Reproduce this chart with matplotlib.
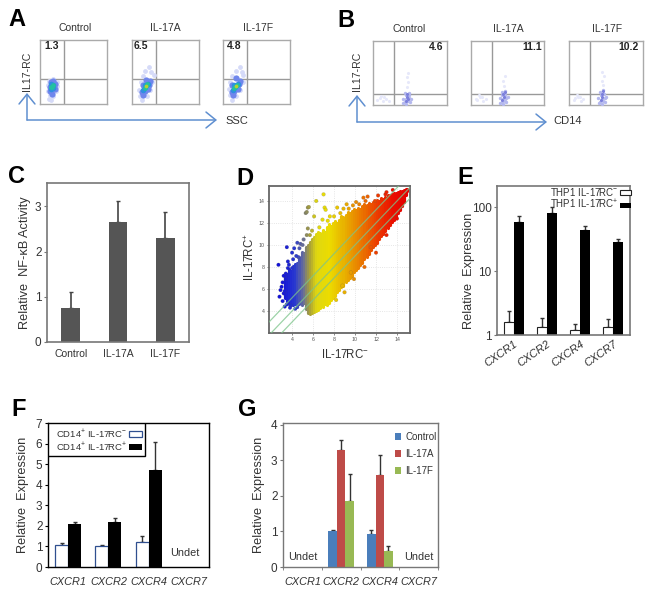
import matplotlib
matplotlib.use("Agg")
import matplotlib.pyplot as plt
import numpy as np
from matplotlib.colors import LinearSegmentedColormap, Normalize
from matplotlib.patches import FancyArrowPatch, Rectangle
from matplotlib.transforms import ScaledTranslation

plt.rcParams['font.family'] = ['Liberation Sans', 'DejaVu Sans']
plt.rcParams['mathtext.fontset'] = 'custom'
plt.rcParams['mathtext.rm'] = 'Liberation Sans'
plt.rcParams['mathtext.it'] = 'Liberation Sans:italic'
plt.rcParams['mathtext.bf'] = 'Liberation Sans:bold'
plt.rcParams['mathtext.default'] = 'regular'

W, H = 651, 593
TXT = '#333333'
GRAY = '#777777'

# ---------- data ----------
# Panel A/B: gated percentages
a_titles = ['Control', 'IL-17A', 'IL-17F']
a_values = ['1.3', '6.5', '4.8']
b_values = ['4.6', '11.1', '10.2']
a_colors = ['#d5daf8', '#6f86ec', '#2f8fe0', '#22c0a0', '#b8d030']
b_colors = ['#e6e8fa', '#b4b8ee', '#7c80dc']
# each list: x, y, density level
a1_x = [.13,.15,.12,.20,.17,.24,.25,.14,.20,.12,.26, .15,.18,.22,.23,.16,.20,.15,.19, .16,.19,.20,.17, .17,.19,.18]
a1_y = [.08,.14,.20,.12,.06,.20,.35,.36,.39,.30,.28, .20,.16,.24,.32,.34,.36,.27,.28, .24,.25,.30,.32, .27,.30,.27]
a1_l = [0,0,0,0,0,0,0,0,0,0,0, 1,1,1,1,1,1,1,1, 2,2,2,2, 3,3,3]
a2_x = [.12,.15,.11,.22,.27,.30,.28,.20,.25,.33,.17,.14, .15,.17,.24,.27,.21,.16,.19,.23,.26, .17,.20,.24,.19, .19,.23,.21, .21]
a2_y = [.12,.06,.22,.12,.22,.34,.50,.52,.58,.46,.44,.34, .18,.14,.24,.36,.38,.30,.20,.30,.30, .22,.26,.32,.30, .25,.31,.28, .28]
a2_l = [0,0,0,0,0,0,0,0,0,0,0,0, 1,1,1,1,1,1,1,1,1, 2,2,2,2, 3,3,3, 4]
a3_x = [.11,.14,.09,.20,.25,.30,.28,.20,.26,.30,.14,.11, .13,.15,.22,.25,.19,.14,.17,.21,.24, .15,.18,.22,.17, .17,.21,.19, .19]
a3_y = [.14,.07,.24,.12,.22,.34,.50,.52,.58,.46,.44,.34, .18,.14,.24,.36,.40,.30,.20,.30,.31, .22,.26,.32,.30, .25,.30,.28, .28]
a3_l = [0,0,0,0,0,0,0,0,0,0,0,0, 1,1,1,1,1,1,1,1,1, 2,2,2,2, 3,3,3, 4]
b1_x = [.05,.09,.13,.17,.21,.11,.15, .41,.45,.50,.43,.48,.46,.41,.52,.47,.46,.47, .43,.47,.45,.49,.44,.48, .45,.47,.46,.46]
b1_y = [.08,.11,.06,.10,.07,.14,.13, .03,.02,.04,.19,.18,.28,.10,.10,.36,.44,.50, .05,.06,.10,.11,.15,.15, .07,.10,.13,.17]
b1_l = [0,0,0,0,0,0,0, 1,1,1,1,1,0,1,1,0,0,0, 1,1,1,1,1,1, 2,2,2,2]
b2_x = [.08,.12,.16,.20,.11,.15,.07, .40,.44,.48,.42,.46,.45,.40,.50,.44,.46, .42,.46,.44,.48,.43,.47, .43,.45,.44,.46]
b2_y = [.08,.12,.06,.09,.15,.13,.10, .03,.02,.04,.20,.22,.30,.11,.12,.38,.46, .05,.06,.10,.11,.15,.16, .08,.12,.17,.20]
b2_l = [0,0,0,0,0,0,0, 1,1,1,1,1,0,1,1,0,0, 1,1,1,1,1,1, 2,2,2,2]
b3_x = [.07,.12,.16,.19,.11,.15,.08, .40,.44,.48,.42,.46,.46,.39,.50,.45,.47,.45, .42,.46,.44,.48,.43,.47, .43,.45,.44,.46]
b3_y = [.08,.12,.07,.09,.15,.13,.11, .03,.02,.04,.20,.24,.32,.11,.13,.38,.46,.52, .05,.06,.10,.11,.15,.17, .08,.12,.17,.22]
b3_l = [0,0,0,0,0,0,0, 1,1,1,1,1,0,1,1,0,0,0, 1,1,1,1,1,1, 2,2,2,2]

# Panel C
c_cats = ['Control', 'IL-17A', 'IL-17F']
c_vals = [0.75, 2.65, 2.30]
c_tops = [1.10, 3.12, 2.88]

# Panel D: envelope of the point cloud and fringe points
d_x = [3.3,3.5,3.7,3.9,4.1,4.3,4.5,4.7,4.9,5.1,5.3,5.5,5.7,5.9,6.1,6.3,6.5,6.7,6.9,7.1,7.3,7.5,7.7,7.9,
       8.1,8.3,8.5,8.7,8.9,9.1,9.3,9.5,9.7,9.9,10.1,10.3,10.5,10.7,10.9,11.1,11.3,11.5,11.7,11.9,
       12.1,12.3,12.5,12.7,12.9,13.1,13.3,13.5,13.7,13.9,14.1,14.3,14.5,14.7,14.9,15.0]
d_lo = [5.2,4.9,4.6,4.7,4.5,4.6,4.4,4.6,4.5,4.7,4.2,3.8,3.7,3.8,3.9,4.0,4.1,4.3,4.4,4.6,4.5,4.7,5.0,5.2,
        5.4,5.7,5.9,6.2,6.3,6.6,6.8,7.0,7.2,7.5,7.7,7.9,8.2,8.4,8.7,8.9,9.2,9.5,9.8,10.0,
        10.2,10.5,10.8,11.0,11.3,11.5,11.8,12.1,12.3,12.6,12.9,13.2,13.5,13.9,14.5,14.9]
d_hi = [7.2,7.4,7.8,7.6,8.1,8.3,8.4,8.9,9.4,9.3,9.8,10.0,10.3,10.5,10.7,11.0,11.2,11.1,11.4,11.2,11.6,11.9,11.7,
        12.0,12.2,12.0,12.3,12.6,12.5,12.7,13.0,12.9,13.1,13.3,13.2,13.4,13.3,13.5,13.7,13.6,13.8,13.7,13.9,14.0,
        14.1,14.0,14.3,14.2,14.4,14.5,14.5,14.6,14.7,14.7,14.8,14.9,14.9,15.0,15.1,15.1]
d_fx = [7.0,6.3,5.5,5.6,5.3,5.4,7.1,7.2,6.1,5.5,5.4,5.1,8.3,10.8,9.8,12.9,11.9,2.7,3.5,4.0,3.6,2.9,2.8,3.3,3.9,4.5,4.6,8.8,9.6,11.5,
        3.1,3.2,3.4,4.2,6.9,7.6,8.9,10.1,9.2,11.2, 3.0,3.3,3.1,3.5,3.8,3.6,4.1,4.4,3.2,3.4,3.7,4.0,4.3,4.7,4.8,5.0,
        7.4,8.0,8.6,9.4,10.4,11.0,12.2,13.0,13.6, 8.2,9.0,9.9,10.9,12.0,13.0,14.0, 5.7,5.9,6.6]
d_fy = [14.6,14.0,13.4,13.45,12.9,13.0,13.4,13.2,12.6,11.5,10.9,10.5,13.4,14.3,13.6,14.6,14.0,8.2,9.8,9.3,8.5,5.9,5.3,4.4,4.5,10.2,8.9,6.3,7.5,9.8,
        6.6,5.6,7.4,9.7,12.3,12.6,13.3,13.9,13.7,14.4, 6.2,5.8,4.9,4.6,4.3,7.9,8.7,9.0,7.2,6.9,8.2,7.9,4.2,9.7,10.1,10.0,
        12.2,12.6,12.9,13.3,13.7,14.0,14.5,14.8,15.0, 5.0,5.7,6.9,8.0,9.3,10.9,12.4, 10.9,11.3,11.6]
d_offsets = [1.2, 0.0, -1.0]
d_ticks = [4, 6, 8, 10, 12, 14]

# Panel E
e_cats = ['CXCR1', 'CXCR2', 'CXCR4', 'CXCR7']
e_neg = [1.6, 1.33, 1.2, 1.33]
e_neg_top = [2.4, 1.85, 1.5, 1.8]
e_pos = [58, 82, 44, 28]
e_pos_top = [72, 100, 50, 32]

# Panel F
f_cats = ['CXCR1', 'CXCR2', 'CXCR4', 'CXCR7']
f_neg = [1.05, 1.00, 1.20]
f_neg_top = [1.15, 1.05, 1.50]
f_pos = [2.08, 2.17, 4.70]
f_pos_top = [2.20, 2.38, 6.07]

# Panel G (groups CXCR2 and CXCR4 only)
g_cats = ['CXCR1', 'CXCR2', 'CXCR4', 'CXCR7']
g_ctrl = [1.02, 0.93]
g_ctrl_top = [1.05, 1.03]
g_a = [3.30, 2.58]
g_a_top = [3.57, 3.15]
g_f = [1.87, 0.45]
g_f_top = [2.62, 0.60]

# ---------- helpers ----------
fig = plt.figure(figsize=(W / 100, H / 100), dpi=100)

def axpx(x0, y0, x1, y1):
    return fig.add_axes([x0 / W, 1 - y1 / H, (x1 - x0) / W, (y1 - y0) / H])

def ptxt(x, y, s, size=7.5, ha='center', va='center', **kw):
    kw.setdefault('color', TXT)
    return fig.text(x / W, 1 - y / H, s, fontsize=size, ha=ha, va=va, **kw)

def arrow(p0, p1):
    fig.add_artist(FancyArrowPatch((p0[0] / W, 1 - p0[1] / H), (p1[0] / W, 1 - p1[1] / H),
                                   transform=fig.transFigure, arrowstyle='->,head_length=3.2,head_width=2.6',
                                   color='#5f8fd0', lw=1.1, shrinkA=0, shrinkB=0, mutation_scale=2.2))

def style(ax, color=GRAY, lw=1.1):
    for s in ax.spines.values():
        s.set_color(color)
        s.set_linewidth(lw)

def flow(box, xs, ys, ls, vline, hline, colors, sizes):
    ax = axpx(*box)
    ax.set_xlim(0, 1)
    ax.set_ylim(0, 1)
    ax.set_xticks([])
    ax.set_yticks([])
    style(ax, '#aaaaaa', 1.0)
    ax.axvline(vline, color='#999999', lw=1.0)
    ax.axhline(hline, color='#999999', lw=1.0)
    xs, ys, ls = np.array(xs), np.array(ys), np.array(ls)
    for lev, col in enumerate(colors):
        m = ls == lev
        ax.scatter(xs[m], ys[m], s=sizes[lev], color=col, lw=0, zorder=3 + lev)
    return ax

def err(ax, x, bottom, top, color='#333333', lw=1.0):
    ax.errorbar(x, bottom, yerr=[[0] * len(bottom), np.array(top) - np.array(bottom)],
                fmt='none', ecolor=color, elinewidth=lw, capsize=1.6, capthick=1.0, zorder=1)

def shift_labels(ax, dxs):
    for lab, dx in zip(ax.get_xticklabels(), dxs):
        lab.set_transform(lab.get_transform() + ScaledTranslation(dx / 100, 0, fig.dpi_scale_trans))

# ---------- panel letters ----------
for (lx, ly, s) in [(8, 26, 'A'), (337, 27, 'B'), (8, 183, 'C'), (236, 185, 'D'),
                    (457, 184, 'E'), (11, 416, 'F'), (238, 416, 'G')]:
    ptxt(lx, ly, s, size=17, ha='left', va='baseline', fontweight='bold', color='black')

# ---------- A ----------
a_boxes = [(40, 40, 107, 104), (132, 40, 199, 104), (223, 40, 290, 104)]
a_tx = [75, 165, 258]
a_vx = [52, 141, 234]
for box, xs, ys, ls, t, tx, v, vx in zip(a_boxes, [a1_x, a2_x, a3_x], [a1_y, a2_y, a3_y], [a1_l, a2_l, a3_l],
                                         a_titles, a_tx, a_values, a_vx):
    flow(box, xs, ys, ls, .36, .39, a_colors, [12, 20, 16, 12, 7])
    ptxt(tx, 28, t)
    ptxt(vx, 46, v, fontweight='bold', color='#222222')
arrow((27, 120), (27, 93))
arrow((27, 120), (217, 120))
ptxt(27, 71, 'IL17-RC', rotation=90, size=7.6)
ptxt(225, 121, 'SSC', ha='left', size=8)

# ---------- B ----------
b_boxes = [(373, 41, 447, 105), (471, 41, 544, 105), (569, 41, 643, 105)]
b_tx = [409, 508, 607]
b_vx = [443, 542, 639]
for box, xs, ys, ls, t, tx, v, vx in zip(b_boxes, [b1_x, b2_x, b3_x], [b1_y, b2_y, b3_y], [b1_l, b2_l, b3_l],
                                         a_titles, b_tx, b_values, b_vx):
    flow(box, xs, ys, ls, .285, .17, b_colors, [5, 6, 5])
    ptxt(tx, 29, t)
    ptxt(vx, 47, v, ha='right', fontweight='bold', color='#222222')
arrow((357, 122), (357, 95))
arrow((357, 122), (547, 122))
ptxt(357, 71, 'IL17-RC', rotation=90, size=7.6)
ptxt(553, 121, 'CD14', ha='left', size=8)

# ---------- C ----------
ax = axpx(47, 183, 189, 342)
xc = np.arange(len(c_cats))
ax.bar(xc, c_vals, width=.4, color='#555555', zorder=2)
err(ax, xc, c_vals, c_tops, '#444444', 1.2)
ax.set_xlim(-.5, 2.5)
ax.set_ylim(0, 3.52)
ax.set_xticks(xc)
ax.set_xticklabels(c_cats, fontsize=7.5, color=TXT)
ax.set_yticks([0, 1, 2, 3])
ax.set_yticklabels(['0', '1', '2', '3'], fontsize=8.5, color=TXT)
ax.tick_params(axis='x', length=0, pad=5)
ax.tick_params(axis='y', length=2, pad=2, color=GRAY)
style(ax, GRAY, 1.2)
ptxt(25, 263, 'Relative  NF-κB Activity', rotation=90, size=9.2)

# ---------- D ----------
ax = axpx(269, 186, 410, 333)
cmap = LinearSegmentedColormap.from_list('d', [
    (0.00, '#1212d8'), (0.11, '#2a3ad0'), (0.17, '#6a7096'), (0.22, '#a8a038'), (0.28, '#e0d810'),
    (0.38, '#ecdc00'), (0.50, '#e8b000'), (0.63, '#ea7a00'), (0.75, '#ec4000'), (0.88, '#ea1000'), (1.00, '#e40000')])
norm = Normalize(3, 15)
ax.set_axisbelow(True)
ax.grid(True, color='#dddddd', lw=.6, ls=':')
ax.vlines(d_x, d_lo, d_hi, colors=cmap(norm(np.array(d_x))), lw=2.3, capstyle='round', zorder=2)
ax.scatter(d_fx, d_fy, c=cmap(norm(np.array(d_fx))), s=7, lw=.2, edgecolors='#55555580', zorder=3)
for off in d_offsets:
    ax.axline((0, off), slope=1, color='#7cc48a', lw=.9, alpha=.75, zorder=4)
ax.set_xlim(1.8, 15.24)
ax.set_ylim(2, 15.36)
ax.set_xticks(d_ticks)
ax.set_yticks(d_ticks)
ax.tick_params(labelsize=3.8, length=1.5, pad=1.5, colors='#555555', width=.5)
style(ax, '#666666', 1.3)
ptxt(250, 257, 'IL-17RC$^{+}$', rotation=90, size=8.3)
ptxt(345, 355, 'IL-17RC$^{-}$', size=8.3)

# ---------- E ----------
ax = axpx(497, 186, 630, 335)
xe = np.arange(len(e_cats))
w = .3
ax.bar(xe - w / 2, e_neg, width=w, color='white', edgecolor='#222222', lw=.8, zorder=2,
       label='THP1 IL-17RC$^{-}$')
ax.bar(xe + w / 2, e_pos, width=w, color='black', zorder=2, label='THP1 IL-17RC$^{+}$')
err(ax, xe - w / 2, e_neg, e_neg_top)
err(ax, xe + w / 2, e_pos, e_pos_top)
ax.set_yscale('log')
ax.set_xlim(-.5, 3.5)
ax.set_ylim(1, 213)
ax.set_yticks([1, 10, 100])
ax.set_yticklabels(['1', '10', '100'], fontsize=8.5, color=TXT)
ax.minorticks_off()
ax.set_xticks(xe)
ax.set_xticklabels(e_cats, fontsize=8, rotation=35, ha='right', rotation_mode='anchor', style='italic', color=TXT)
ax.tick_params(axis='x', length=0, pad=3)
ax.tick_params(axis='y', length=2, pad=2, color=GRAY)
style(ax, GRAY, 1.2)
ax.legend(loc='center', bbox_to_anchor=((590.5 - 497) / 133, (335 - 198.5) / 149), frameon=False, fontsize=7,
          markerfirst=False, handlelength=1.05, handleheight=.35, handletextpad=.15, labelspacing=.02, borderpad=0,
          borderaxespad=0, labelcolor=TXT)
ptxt(469, 271, 'Relative  Expression', rotation=90, size=9.2)

# ---------- F ----------
ax = axpx(48, 423, 209, 567)
xf = np.arange(len(f_neg))
w = .32
ax.bar(xf - w / 2, f_neg, width=w, color='white', edgecolor='#2f4f8f', lw=.9, zorder=2,
       label='CD14$^{+}$ IL-17RC$^{-}$')
ax.bar(xf + w / 2, f_pos, width=w, color='black', zorder=2, label='CD14$^{+}$ IL-17RC$^{+}$')
err(ax, xf - w / 2, f_neg, f_neg_top)
err(ax, xf + w / 2, f_pos, f_pos_top)
ax.set_xlim(-.5, 3.5)
ax.set_ylim(0, 7)
ax.set_yticks(range(8))
ax.set_yticklabels([str(i) for i in range(8)], fontsize=8.5, color=TXT)
ax.set_xticks(range(4))
ax.set_xticklabels(f_cats, fontsize=7.8, style='italic', color=TXT)
shift_labels(ax, [-4.5, -3, 0, 1])
ax.tick_params(axis='x', length=0, pad=7)
ax.tick_params(axis='y', length=2, pad=2)
for k in ['bottom', 'left', 'right', 'top']:
    ax.spines[k].set_linewidth(1.0)
ax.text(2.9, .68, 'Undet', fontsize=7.8, ha='center', va='center', color=TXT)
ax.add_patch(Rectangle((0, 1 - 33 / 144), 97 / 161, 33 / 144, transform=ax.transAxes, fc='white', ec='black',
                       lw=1.0, zorder=5))
leg = ax.legend(loc='center', bbox_to_anchor=((99 - 48) / 161, (567 - 440) / 144), frameon=False,
                fontsize=6.8, markerfirst=False, handlelength=1.4, handleheight=.55, handletextpad=.2,
                labelspacing=.1, borderpad=0, borderaxespad=0, labelcolor=TXT)
leg.set_zorder(6)
ptxt(23, 495, 'Relative  Expression', rotation=90, size=9.2)

# ---------- G ----------
ax = axpx(283, 423, 438, 567)
xg = np.array([1, 2])
w = .22
ax.bar(xg - w, g_ctrl, width=w, color='#4a7ebb', zorder=2, label='Control')
ax.bar(xg, g_a, width=w, color='#be4b48', zorder=2, label='IL-17A')
ax.bar(xg + w, g_f, width=w, color='#98b954', zorder=2, label='IL-17F')
err(ax, xg - w, g_ctrl, g_ctrl_top)
err(ax, xg, g_a, g_a_top)
err(ax, xg + w, g_f, g_f_top)
ax.set_xlim(-.5, 3.5)
ax.set_ylim(0, 4.05)
ax.set_yticks(range(5))
ax.set_yticklabels([str(i) for i in range(5)], fontsize=8.5, color=TXT)
ax.set_xticks(range(4))
ax.set_xticklabels(g_cats, fontsize=7.8, style='italic', color=TXT)
shift_labels(ax, [-4.5, -2, -2, 1])
ax.set_xticks([-.5, .5, 1.5, 2.5, 3.5], minor=True)
ax.tick_params(axis='x', which='major', length=0, pad=7)
ax.tick_params(axis='x', which='minor', length=2, color=GRAY)
ax.tick_params(axis='y', length=2, pad=2, color=GRAY)
style(ax, GRAY, 1.0)
ax.text(0, .28, 'Undet', fontsize=7.8, ha='center', va='center', color=TXT)
ax.text(3, .28, 'Undet', fontsize=7.8, ha='center', va='center', color=TXT)
ax.legend(loc='upper right', bbox_to_anchor=(.99, .94), frameon=False, fontsize=7, handlelength=.6, handleheight=.75,
          handletextpad=.4, labelspacing=.75, borderpad=0, borderaxespad=0, labelcolor=TXT)
ptxt(259, 495, 'Relative  Expression', rotation=90, size=9.2)

fig.savefig('out.png', dpi=100, facecolor='white')
